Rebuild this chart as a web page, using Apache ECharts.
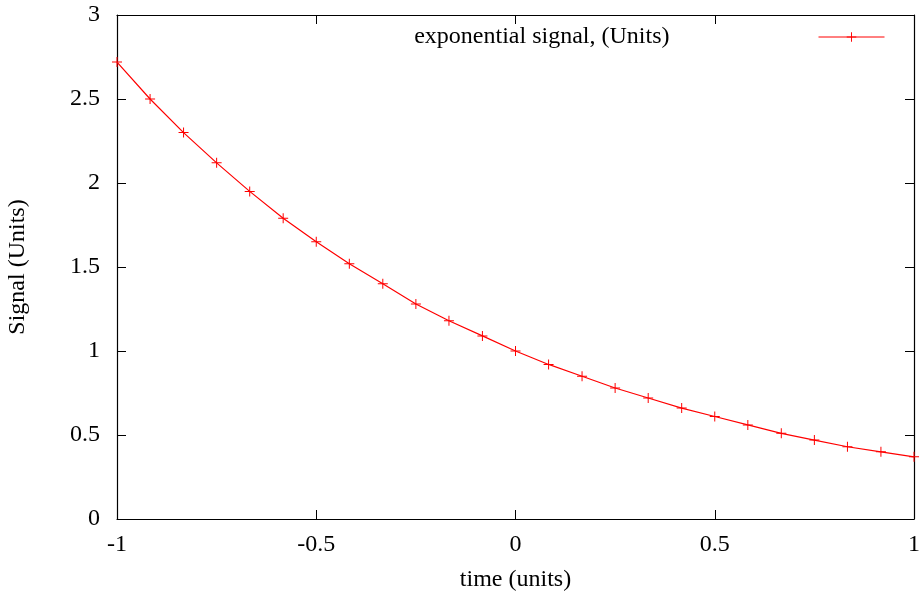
<!DOCTYPE html>
<html>
<head>
<meta charset="utf-8">
<script src="https://cdn.jsdelivr.net/npm/echarts@6/dist/echarts.min.js"></script>
<style>html,body{margin:0;padding:0;background:#fff}#c{width:924px;height:599px}</style>
</head>
<body>
<div id="c"></div>
<script>
const timeValues = [-1, -0.917, -0.833, -0.75, -0.667, -0.583, -0.5, -0.417, -0.333, -0.25, -0.167, -0.083, 0, 0.083, 0.167, 0.25, 0.333, 0.417, 0.5, 0.583, 0.667, 0.75, 0.833, 0.917, 1];
const signalValues = [2.72, 2.50, 2.30, 2.12, 1.95, 1.79, 1.65, 1.52, 1.40, 1.28, 1.18, 1.09, 1.00, 0.92, 0.85, 0.78, 0.72, 0.66, 0.61, 0.56, 0.51, 0.47, 0.43, 0.40, 0.37];
const seriesName = 'exponential signal, (Units)';
const xTitle = 'time (units)';
const yTitle = 'Signal (Units)';

const font = 'Liberation Serif';
const fs = 24;
const plus = 'path://M4.5,0H5.5V4.5H10V5.5H5.5V10H4.5V5.5H0V4.5H4.5Z';
const chart = echarts.init(document.getElementById('c'), null, {renderer: 'canvas'});
const axisCommon = {
  axisLine: {show: true, onZero: false, lineStyle: {color: '#000', width: 1.2}},
  axisTick: {show: true, inside: true, length: 9, lineStyle: {color: '#000', width: 1}},
  splitLine: {show: false}
};
chart.setOption({
  animation: false,
  backgroundColor: '#fff',
  textStyle: {fontFamily: font},
  grid: {left: 117, right: 10, top: 15, bottom: 80, containLabel: false, outerBoundsMode: 'none'},
  legend: {
    right: 34, top: 20, align: 'right',
    itemWidth: 66, itemHeight: 12,
    lineStyle: {width: 1},
    formatter: n => '{a|' + n + '}{b|}',
    textStyle: {
      rich: {
        a: {fontFamily: font, fontSize: fs, color: '#000'},
        b: {width: 144}
      }
    },
    data: [seriesName]
  },
  xAxis: [
    Object.assign({type: 'value', position: 'bottom', min: -1, max: 1, interval: 0.5,
      name: xTitle, nameLocation: 'middle', nameGap: 49,
      nameTextStyle: {fontFamily: font, fontSize: fs, color: '#000'},
      axisLabel: {fontFamily: font, fontSize: fs, color: '#000', margin: 14}}, axisCommon),
    Object.assign({type: 'value', position: 'top', min: -1, max: 1, interval: 0.5,
      axisLabel: {show: false}}, axisCommon)
  ],
  yAxis: [
    Object.assign({type: 'value', position: 'left', min: 0, max: 3, interval: 0.5,
      name: yTitle, nameLocation: 'middle', nameGap: 87, nameRotate: 90,
      nameTextStyle: {fontFamily: font, fontSize: fs, color: '#000'},
      axisLabel: {fontFamily: font, fontSize: fs, color: '#000', margin: 17}}, axisCommon),
    Object.assign({type: 'value', position: 'right', min: 0, max: 3, interval: 0.5,
      axisLabel: {show: false}}, axisCommon)
  ],
  series: [{
    name: seriesName,
    type: 'line',
    xAxisIndex: 0, yAxisIndex: 0,
    data: timeValues.map((t, i) => [t, signalValues[i]]),
    symbol: plus,
    symbolSize: 10,
    showAllSymbol: true,
    color: '#ff0000',
    lineStyle: {color: '#ff0000', width: 1.2},
    itemStyle: {color: '#ff0000'}
  }]
});
</script>
</body>
</html>
